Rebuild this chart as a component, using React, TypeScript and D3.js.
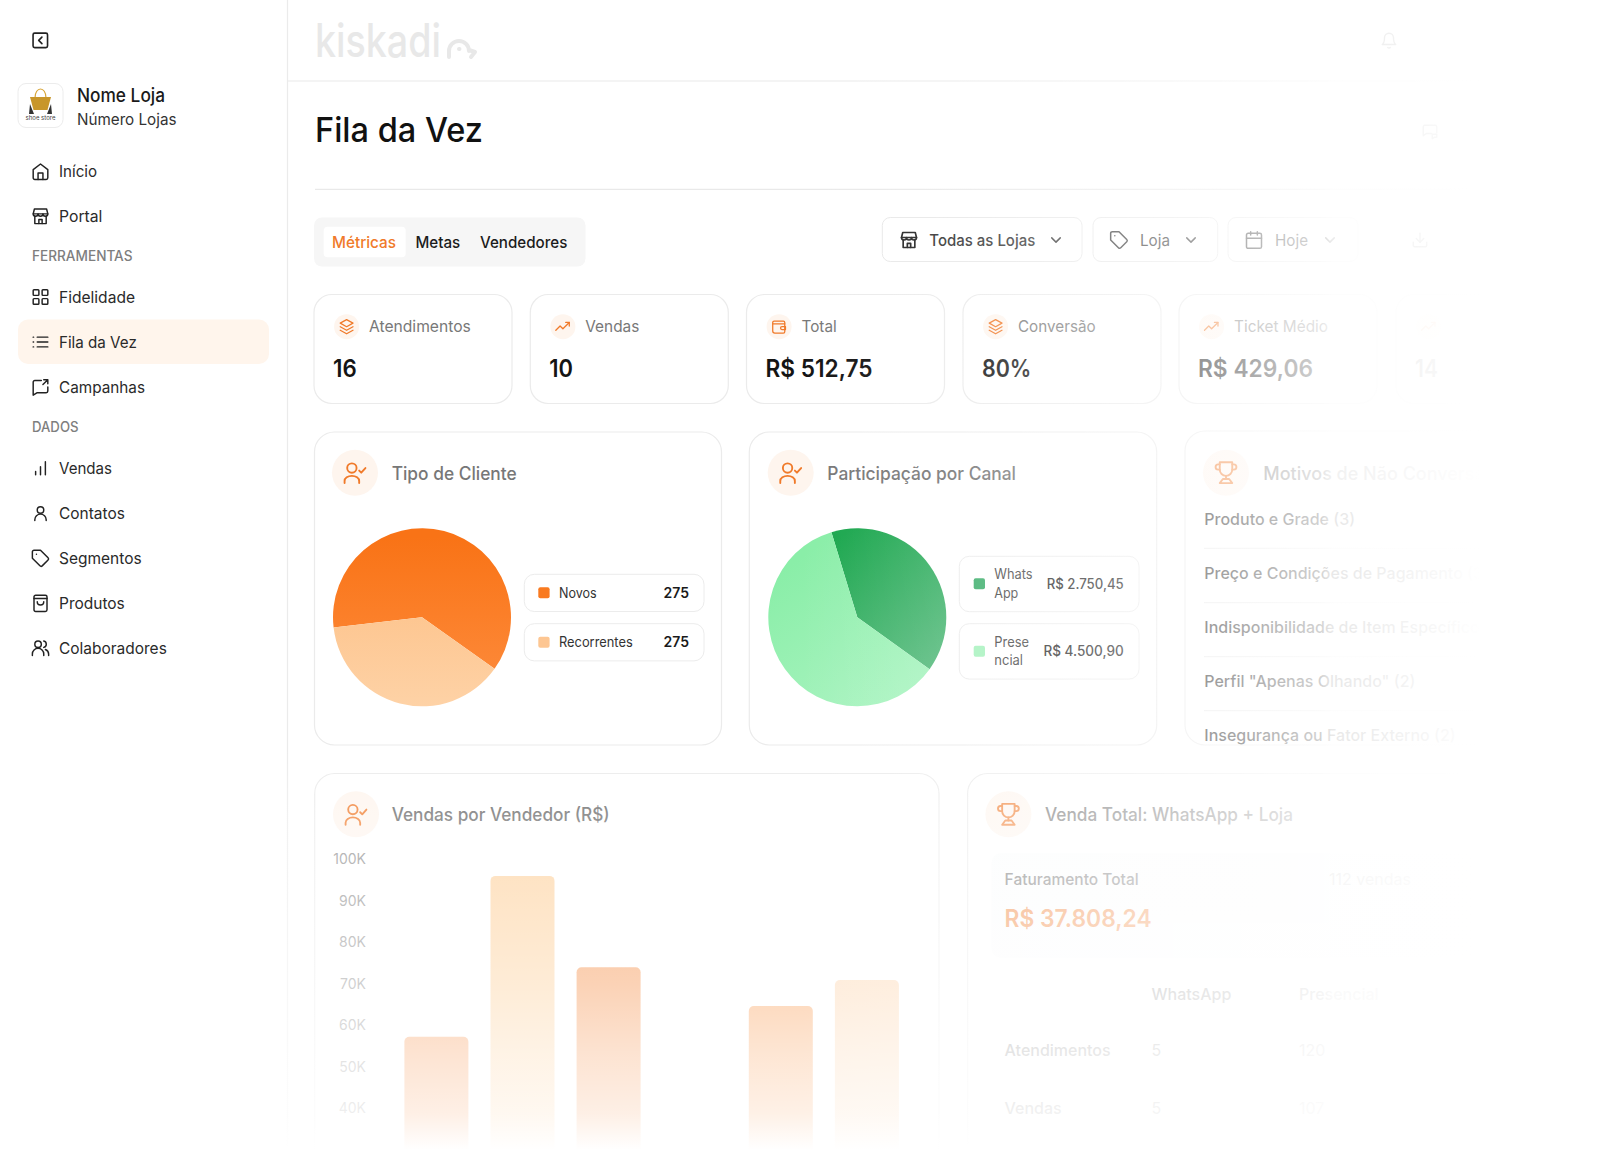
import React from "react";
import * as d3 from "d3";

// ---------- data ----------
const navTop = ["Início", "Portal"];
const navTools = ["Fidelidade", "Fila da Vez", "Campanhas"];
const navData = ["Vendas", "Contatos", "Segmentos", "Produtos", "Colaboradores"];
const tabLabels = ["Métricas", "Metas", "Vendedores"];
const filterLabels = ["Todas as Lojas", "Loja", "Hoje"];
const kpiLabels = ["Atendimentos", "Vendas", "Total", "Conversão", "Ticket Médio", ""];
const kpiValues = ["16", "10", "R$ 512,75", "80%", "R$ 429,06", "14"];
const clientLabels = ["Novos", "Recorrentes"];
const clientShown = ["275", "275"];
const clientShares = [222, 138];
const channelLabels = [["Whats", "App"], ["Prese", "ncial"]];
const channelShown = ["R$ 2.750,45", "R$ 4.500,90"];
const channelShares = [142.6, 217.4];
const reasons = [
  "Produto e Grade (3)",
  "Preço e Condições de Pagamento (3)",
  "Indisponibilidade de Item Específico (2)",
  'Perfil "Apenas Olhando" (2)',
  "Insegurança ou Fator Externo (2)",
];
const sellers = ["V1", "V2", "V3", "V4", "V5", "V6"];
const sellerSales = [57250, 96000, 74000, 0, 64650, 70900];
const axisTicks = [100000, 90000, 80000, 70000, 60000, 50000, 40000];
const tableHeads = ["WhatsApp", "Presencial"];
const tableRows = ["Atendimentos", "Vendas"];
const tableWhats = ["5", "5"];
const tablePres = ["120", "107"];

// ---------- scales ----------
const yScale = d3.scaleLinear().domain([0, 100000]).range([1274.3, 859.3]);
const xScale = d3.scaleBand<string>().domain(sellers).range([404.4, 404.4 + 5 * 86.1 + 64]).paddingInner(0.2567).paddingOuter(0);
const barFill = ["#f7914a", "#fdcf99", "#f58f48", "#f7914a", "#f99a50", "#fcd2a8"];

const FONT = "Inter, 'Noto Sans', sans-serif";
const ORANGE = "#f07a2a";

const P: Record<string, string[]> = {
  back: ["M5 3h14a2 2 0 0 1 2 2v14a2 2 0 0 1-2 2H5a2 2 0 0 1-2-2V5a2 2 0 0 1 2-2z", "M14 8l-4 4 4 4"],
  home: ["M3 10l9-7 9 7v10a2 2 0 0 1-2 2H5a2 2 0 0 1-2-2z", "M9 22v-8h6v8"],
  store: ["M4.5 3h15L21 9H3z", "M3 9a3 3 0 0 0 6 0 3 3 0 0 0 6 0 3 3 0 0 0 6 0", "M5 12v9h14v-9", "M10 21v-5h4v5"],
  grid: ["M4 3h5a1 1 0 0 1 1 1v5a1 1 0 0 1-1 1H4a1 1 0 0 1-1-1V4a1 1 0 0 1 1-1z", "M15 3h5a1 1 0 0 1 1 1v5a1 1 0 0 1-1 1h-5a1 1 0 0 1-1-1V4a1 1 0 0 1 1-1z", "M4 14h5a1 1 0 0 1 1 1v5a1 1 0 0 1-1 1H4a1 1 0 0 1-1-1v-5a1 1 0 0 1 1-1z", "M15 14h5a1 1 0 0 1 1 1v5a1 1 0 0 1-1 1h-5a1 1 0 0 1-1-1v-5a1 1 0 0 1 1-1z"],
  list: ["M8 6h13M8 12h13M8 18h13M3 6h.5M3 12h.5M3 18h.5"],
  camp: ["M21 12v5a2 2 0 0 1-2 2H8l-5 3V6a2 2 0 0 1 2-2h8", "M16 3h5v5M21 3l-6 6"],
  bars: ["M6 20v-4M12 20V10M18 20V4"],
  user: ["M12 12a4 4 0 1 0 0-8 4 4 0 0 0 0 8z", "M5 21v-1a7 7 0 0 1 14 0v1"],
  tag: ["M12 2H4a2 2 0 0 0-2 2v8l9.3 9.3a2 2 0 0 0 2.8 0l7.2-7.2a2 2 0 0 0 0-2.8z", "M7 7h.01"],
  bag: ["M6 2h12a2 2 0 0 1 2 2v16a2 2 0 0 1-2 2H6a2 2 0 0 1-2-2V4a2 2 0 0 1 2-2z", "M4 6h16", "M16 10a4 4 0 0 1-8 0"],
  users: ["M9 11a4 4 0 1 0 0-8 4 4 0 0 0 0 8z", "M2 21v-2a6 6 0 0 1 14 0v2", "M16 3.1a4 4 0 0 1 0 7.8", "M22 21v-2a6 6 0 0 0-4-5.6"],
  check: ["M9 12a4.5 4.5 0 1 0 0-9 4.5 4.5 0 0 0 0 9z", "M2 22v-2a7 5 0 0 1 14 0v2", "M16 10l2 2 4-4.5"],
  layers: ["M12 2l9 5-9 5-9-5z", "M3 12l9 5 9-5", "M3 17l9 5 9-5"],
  trend: ["M2 17l6-6 4 4 9-9", "M16 6h5v5"],
  wallet: ["M5 4h13a2 2 0 0 1 2 2v13a2 2 0 0 1-2 2H6a3 3 0 0 1-3-3V6a2 2 0 0 1 2-2z", "M3 8h17", "M21 12h-5a2 2 0 0 0 0 4h5z"],
  chev: ["M6 9l6 6 6-6"],
  cal: ["M5 4h14a2 2 0 0 1 2 2v14a2 2 0 0 1-2 2H5a2 2 0 0 1-2-2V6a2 2 0 0 1 2-2z", "M3 10h18M8 2v4M16 2v4"],
  bell: ["M6 8a6 6 0 0 1 12 0c0 7 3 9 3 9H3s3-2 3-9", "M10.3 21a2 2 0 0 0 3.4 0"],
  down: ["M21 15v4a2 2 0 0 1-2 2H5a2 2 0 0 1-2-2v-4", "M7 10l5 5 5-5", "M12 15V3"],
  chat: ["M21 13V5a2 2 0 0 0-2-2H5a2 2 0 0 0-2 2v12l4-3h7", "M15 15h6v4h-3l-3 2z"],
  trophy: ["M6 9H4.5a2.5 2.5 0 0 1 0-5H6", "M18 9h1.5a2.5 2.5 0 0 0 0-5H18", "M6 2h12v7a6 6 0 0 1-12 0z", "M12 15v3", "M6 22h12l-3-4H9z"],
};

function Icon({ n, x, y, s = 18, c = "#222", w = 2 }: { n: string; x: number; y: number; s?: number; c?: string; w?: number }) {
  const k = s / 24;
  return (
    <g transform={`translate(${x - s / 2},${y - s / 2}) scale(${k})`} fill="none" stroke={c} strokeWidth={w} strokeLinecap="round" strokeLinejoin="round">
      {P[n].map((d, i) => <path key={i} d={d} />)}
    </g>
  );
}

function T({ x, y, t, size = 16, c = "#222", wt = 400, w, anchor }: { x: number; y: number; t: string; size?: number; c?: string; wt?: number; w?: number; anchor?: string }) {
  return (
    <text x={x} y={y} fontSize={size} fill={c} fontWeight={wt} fontFamily={FONT} textAnchor={anchor}
      {...(w ? { textLength: w, lengthAdjust: "spacingAndGlyphs" } : {})}>{t}</text>
  );
}

const Card = ({ x, y, w, h, r = 20 }: { x: number; y: number; w: number; h: number; r?: number }) => (
  <rect x={x} y={y} width={w} height={h} rx={r} fill="#fff" stroke="#ebebeb" strokeWidth={1.2} />
);

const IconDisc = ({ x, y, r, n, s, fill = "#fef5ee" }: { x: number; y: number; r: number; n: string; s: number; fill?: string }) => (
  <g>
    <circle cx={x} cy={y} r={r} fill={fill} />
    <Icon n={n} x={x} y={y} s={s} c={ORANGE} w={1.8} />
  </g>
);

function Pie({ cx, cy, r, shares, start, fills }: { cx: number; cy: number; r: number; shares: number[]; start: number; fills: string[] }) {
  const slices = d3.pie<number>().sort(null).startAngle(start).endAngle(start + 2 * Math.PI)(shares);
  const arc = d3.arc<d3.PieArcDatum<number>>().innerRadius(0).outerRadius(r);
  return (
    <g transform={`translate(${cx},${cy})`}>
      {slices.map((s, i) => <path key={i} d={arc(s) as string} fill={fills[i]} />)}
    </g>
  );
}

const navWidths: Record<string, number> = { "Início": 38, Portal: 43.4, Fidelidade: 76, "Fila da Vez": 77.8, Campanhas: 86, Vendas: 53, Contatos: 65.8, Segmentos: 82.6, Produtos: 65.8, Colaboradores: 107.8 };

const NavRow = ({ label, y, icon }: { label: string; y: number; icon: string }) => (
  <g>
    <Icon n={icon} x={40.5} y={y} s={19.5} c="#222" w={1.8} />
    <T x={59} y={y + 5.6} t={label} size={16} c="#2a2a2a" w={navWidths[label]} />
  </g>
);

export default function App() {
  const kpiX = [314, 530.3, 746.5, 963, 1179, 1396];
  const kpiW = 198;
  const kpiIcons = ["layers", "trend", "wallet", "layers", "trend", "trend"];
  const kpiLabelW = [101.8, 54, 35.2, 77.6, 94, 0];
  const kpiValueW = [23.7, 23.7, 107, 49.4, 115, 23];
  const navTopIcons = ["home", "store"];
  const navToolIcons = ["grid", "list", "camp"];
  const navDataIcons = ["bars", "user", "tag", "bag", "users"];
  const reasonY = [525.3, 579.3, 633.3, 687.3, 741.3];
  const sepY = [548.3, 602.7, 656.7, 710.7];

  return (
    <svg width={1620} height={1152} viewBox="0 0 1620 1152" style={{ position: "absolute", left: 0, top: 0, display: "block", background: "#fff" }}>
      <defs>
        {/* gradient coordinates are relative to the pie centre */}
        <linearGradient id="orangeG" gradientUnits="userSpaceOnUse" x1={0} y1={-80} x2={0} y2={70}>
          <stop offset="0" stopColor="#f97316" /><stop offset="1" stopColor="#fd8a3a" />
        </linearGradient>
        <linearGradient id="peachG" gradientUnits="userSpaceOnUse" x1={0} y1={-20} x2={0} y2={89}>
          <stop offset="0" stopColor="#fdc48d" /><stop offset="1" stopColor="#fed2a6" />
        </linearGradient>
        <linearGradient id="darkG" gradientUnits="userSpaceOnUse" x1={-25} y1={-75} x2={70} y2={60}>
          <stop offset="0" stopColor="#1aa64d" /><stop offset="1" stopColor="#5dbd82" />
        </linearGradient>
        <linearGradient id="mintG" gradientUnits="userSpaceOnUse" x1={-70} y1={-50} x2={40} y2={100}>
          <stop offset="0" stopColor="#8aeea8" /><stop offset="1" stopColor="#adf4c3" />
        </linearGradient>
        <linearGradient id="fadeB" gradientUnits="userSpaceOnUse" x1={0} y1={745} x2={0} y2={1150}>
          {[[0, 0], [0.06, 0.1], [0.19, 0.32], [0.29, 0.4], [0.59, 0.6], [0.76, 0.75], [0.91, 0.86], [1, 1]].map(([o, a], i) => (
            <stop key={i} offset={o} stopColor="#fff" stopOpacity={a} />
          ))}
        </linearGradient>
        <linearGradient id="fadeR" gradientUnits="userSpaceOnUse" x1={800} y1={0} x2={1480} y2={0}>
          {[[0, 0], [0.22, 0.12], [0.368, 0.3], [0.47, 0.4], [0.66, 0.64], [0.765, 0.8], [0.782, 0.9], [0.94, 0.97], [1, 1]].map(([o, a], i) => (
            <stop key={i} offset={o} stopColor="#fff" stopOpacity={a} />
          ))}
        </linearGradient>
      </defs>

      {/* main column frame */}
      <line x1={287.5} x2={287.5} y1={0} y2={1152} stroke="#ebebeb" strokeWidth={1.2} />
      <line x1={288} x2={1620} y1={81} y2={81} stroke="#e9e9e9" strokeWidth={1.2} />
      <line x1={315} x2={1620} y1={189.3} y2={189.3} stroke="#e9e9e9" strokeWidth={1.2} />

      {/* sidebar */}
      <Icon n="back" x={40.3} y={40.4} s={19.3} c="#222" w={2} />
      <rect x={18} y={83.5} width={45} height={44} rx={8} fill="#fff" stroke="#ececec" />
      <path d="M35 98c0-12 11-12 11 0" fill="none" stroke="#d8a63a" strokeWidth={1.2} />
      <path d="M30 97h21l-3.5 13h-14z" fill="#c8962a" />
      <path d="M30 104l4 10h-5zM51 104l-4 10h5z" fill="#333" />
      <text x={40.5} y={120} fontSize={6} textAnchor="middle" fill="#444" fontFamily={FONT}>shoe store</text>
      <T x={77} y={101.5} t="Nome Loja" size={18.5} wt={500} c="#1a1a1a" w={88} />
      <T x={77} y={125} t="Número Lojas" size={16} c="#333" w={99.5} />
      {navTop.map((l, i) => <NavRow key={l} label={l} y={171.3 + i * 45} icon={navTopIcons[i]} />)}
      <T x={32} y={261.2} t="FERRAMENTAS" size={14} wt={500} c="#7e7e7e" w={100.5} />
      <rect x={18} y={319.5} width={251} height={44.5} rx={10} fill="#fff5ec" />
      {navTools.map((l, i) => <NavRow key={l} label={l} y={297 + i * 45} icon={navToolIcons[i]} />)}
      <T x={32} y={432} t="DADOS" size={14} wt={500} c="#7e7e7e" w={46.5} />
      {navData.map((l, i) => <NavRow key={l} label={l} y={468.3 + i * 45} icon={navDataIcons[i]} />)}

      {/* header */}
      <text x={315} y={57} fontSize={46} fill="#e8e8e8" fontFamily={FONT} fontWeight={500} textLength={126} lengthAdjust="spacingAndGlyphs">kiskadi</text>
      <path d="M449 57v-6a10 10 0 0 1 20 0M469 50l6 2-4 5M459 49h.5" fill="none" stroke="#e8e8e8" strokeWidth={4} strokeLinecap="round" strokeLinejoin="round" />
      <Icon n="bell" x={1389} y={40.7} s={18} c="#222" w={1.8} />
      <T x={315} y={141.7} t="Fila da Vez" size={33.5} wt={500} c="#111" w={168} />
      <Icon n="chat" x={1430} y={132} s={18} c="#333" w={1.8} />

      {/* tabs */}
      <rect x={314} y={217.5} width={271.5} height={49} rx={8} fill="#f6f6f6" />
      <rect x={323.7} y={226.7} width={82} height={30.6} rx={4} fill="#fff" />
      <T x={332} y={247.7} t={tabLabels[0]} c={ORANGE} wt={500} w={64} />
      <T x={415.5} y={247.7} t={tabLabels[1]} c="#1c1c1c" w={44.8} wt={500} />
      <T x={480} y={247.7} t={tabLabels[2]} c="#1c1c1c" w={87.3} wt={500} />

      {/* filters */}
      <rect x={882.3} y={217.5} width={199.7} height={44} rx={8} fill="#fff" stroke="#e8e8e8" />
      <Icon n="store" x={909} y={240} s={20} c="#222" />
      <T x={929.3} y={245.7} t={filterLabels[0]} c="#333" wt={500} w={106} />
      <Icon n="chev" x={1056} y={240} s={17} c="#333" />
      <rect x={1093} y={217.5} width={124.7} height={44} rx={8} fill="#fff" stroke="#e8e8e8" />
      <Icon n="tag" x={1119} y={240} s={20} c="#333" w={1.8} />
      <T x={1140} y={245.7} t={filterLabels[1]} c="#333" w={30} />
      <Icon n="chev" x={1191} y={240} s={17} c="#333" />
      <rect x={1228} y={217.5} width={130} height={44} rx={8} fill="#fff" stroke="#e8e8e8" />
      <Icon n="cal" x={1254} y={240} s={20} c="#333" w={1.8} />
      <T x={1275} y={245.7} t={filterLabels[2]} c="#333" w={33} />
      <Icon n="chev" x={1330} y={240} s={17} c="#333" />
      <Icon n="down" x={1420} y={240} s={18} c="#333" w={1.8} />

      {/* KPI cards */}
      {kpiValues.map((v, i) => (
        <g key={v}>
          <Card x={kpiX[i]} y={294.5} w={kpiW} h={109} r={18} />
          <IconDisc x={kpiX[i] + 32.6} y={326.7} r={12.5} n={kpiIcons[i]} s={17} />
          {kpiLabels[i] && <T x={kpiX[i] + 55} y={332} t={kpiLabels[i]} c="#787878" w={kpiLabelW[i]} />}
          <T x={kpiX[i] + 19} y={376.7} t={v} size={24} wt={600} c="#141414" w={kpiValueW[i]} />
        </g>
      ))}

      {/* Tipo de Cliente */}
      <Card x={314.5} y={432} w={407} h={313} />
      <IconDisc x={355} y={472.7} r={23} n="check" s={25} />
      <T x={391.7} y={480} t="Tipo de Cliente" size={18} wt={500} c="#777" w={125} />
      <Pie cx={422} cy={617.3} r={89} shares={clientShares} start={(263.4 * Math.PI) / 180} fills={["url(#orangeG)", "url(#peachG)"]} />
      {clientLabels.map((l, i) => {
        const top = 574.3 + i * 49.4;
        return (
          <g key={l}>
            <rect x={524.3} y={top} width={179.7} height={37.2} rx={10} fill="#fff" stroke="#ececec" />
            <rect x={538.3} y={top + 13} width={11.3} height={11} rx={2} fill={i ? "#fdc692" : "#f97a20"} />
            <T x={559} y={top + 23.4} t={l} size={14} c="#333" w={i ? 73.7 : 37.7} />
            <T x={689} y={top + 23.4} t={clientShown[i]} size={14} wt={600} c="#1a1a1a" anchor="end" />
          </g>
        );
      })}

      {/* Participação por Canal */}
      <Card x={749.3} y={432} w={407.4} h={313} />
      <IconDisc x={790.7} y={472.7} r={23} n="check" s={25} />
      <T x={827.3} y={480} t="Participação por Canal" size={18} wt={500} c="#777" w={188.7} />
      <Pie cx={857.3} cy={617.3} r={89} shares={channelShares} start={(343.1 * Math.PI) / 180} fills={["url(#darkG)", "url(#mintG)"]} />
      {channelLabels.map((l, i) => {
        const top = [556.3, 623.7][i];
        const wid = [[38.3, 24], [34.7, 28.7]][i];
        return (
          <g key={l[0]}>
            <rect x={959.3} y={top} width={179.7} height={55.4} rx={10} fill="#fff" stroke="#ececec" />
            <rect x={973.7} y={top + 22} width={11.3} height={11} rx={2} fill={i ? "#a6f2bd" : "#3cae6b"} />
            <T x={994.3} y={top + 23} t={l[0]} size={14} c="#444" w={wid[0]} />
            <T x={994.3} y={top + 41.4} t={l[1]} size={14} c="#444" w={wid[1]} />
            <T x={1123.7} y={top + 32.4} t={channelShown[i]} size={14} wt={500} c="#222" anchor="end" w={i ? 80.3 : 77} />
          </g>
        );
      })}

      {/* Motivos */}
      <Card x={1185} y={431} w={407} h={314} />
      <IconDisc x={1226} y={472.7} r={23} n="trophy" s={25} />
      <T x={1263.3} y={480} t="Motivos de Não Conversão" size={18} wt={500} c="#777" />
      {reasons.map((r, i) => <T key={r} x={1204.3} y={reasonY[i]} t={r} wt={500} c="#1a1a1a" />)}
      {sepY.map((y) => <line key={y} x1={1204} x2={1570} y1={y} y2={y} stroke="#e6e6e6" />)}

      {/* Vendas por Vendedor */}
      <Card x={314.7} y={773.5} w={624.3} h={500} />
      <IconDisc x={356} y={814.3} r={23} n="check" s={25} />
      <T x={391.7} y={821} t="Vendas por Vendedor (R$)" size={18} wt={500} c="#666" w={218} />
      {axisTicks.map((v) => (
        <text key={v} x={366} y={yScale(v) + 5} textAnchor="end" fontSize={14} fill="#8a8a8a" fontFamily={FONT}>{`${v / 1000}K`}</text>
      ))}
      {sellers.map((s, i) => sellerSales[i] > 0 && (
        <rect key={s} x={xScale(s)} y={yScale(sellerSales[i])} width={xScale.bandwidth()} height={yScale(0) - yScale(sellerSales[i])} rx={5} fill={barFill[i]} />
      ))}

      {/* Venda Total */}
      <Card x={967.6} y={773.5} w={620} h={500} />
      <IconDisc x={1008.4} y={814.3} r={23} n="trophy" s={25} />
      <T x={1045} y={821} t="Venda Total: WhatsApp + Loja" size={18} wt={500} c="#666" w={248} />
      <rect x={991.5} y={853} width={560} height={105} rx={10} fill="#fbfcfd" />
      <T x={1004.6} y={885} t="Faturamento Total" wt={500} c="#666" w={134} />
      <T x={1329} y={885} t="112 vendas" c="#666" />
      <T x={1004.6} y={927} t="R$ 37.808,24" size={24} wt={600} c={ORANGE} w={147} />
      {tableHeads.map((h, i) => <T key={h} x={[1151.5, 1299][i]} y={1000} t={h} wt={500} c="#777" />)}
      {tableRows.map((r, i) => (
        <g key={r}>
          <T x={1004.6} y={[1056, 1114][i]} t={r} c="#777" wt={500} />
          <T x={1151.5} y={[1056, 1114][i]} t={tableWhats[i]} c="#777" />
          <T x={1299} y={[1056, 1114][i]} t={tablePres[i]} c="#777" />
        </g>
      ))}

      {/* fades */}
      <rect x={288} y={0} width={1332} height={1152} fill="url(#fadeR)" />
      <rect x={0} y={745} width={1620} height={407} fill="url(#fadeB)" />
    </svg>
  );
}
